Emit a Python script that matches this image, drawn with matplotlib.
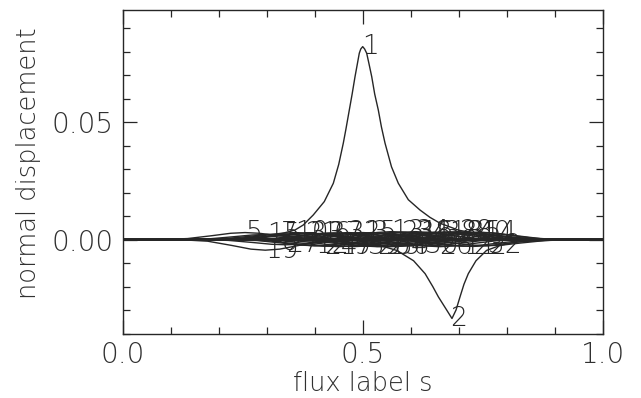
import matplotlib
matplotlib.use("Agg")
import matplotlib.pyplot as plt
from matplotlib.ticker import MultipleLocator, FixedLocator

# ---------------- data ----------------
# mode 1 (large positive peak)
s1 = [0.0, 0.15, 0.20, 0.25, 0.30, 0.33, 0.359, 0.376, 0.397, 0.420, 0.4388,
      0.450, 0.4596, 0.465, 0.4721, 0.478, 0.484, 0.489, 0.4929, 0.496, 0.50,
      0.504, 0.5083, 0.513, 0.5188, 0.525, 0.5325, 0.539, 0.5465, 0.56,
      0.5742, 0.595, 0.6194, 0.640, 0.661, 0.70, 0.75, 0.80, 0.90, 1.0]
v1 = [0.0, 0.0001, 0.0002, 0.0006, 0.0014, 0.0025, 0.0041, 0.0062, 0.0105, 0.0162,
      0.0240, 0.0320, 0.0411, 0.0470, 0.0552, 0.0620, 0.0694, 0.0750, 0.0794, 0.0812,
      0.0822, 0.0812, 0.0794, 0.0750, 0.0694, 0.0620, 0.0552, 0.0480, 0.0411, 0.0310,
      0.0240, 0.0170, 0.0126, 0.0095, 0.0070, 0.0040, 0.0022, 0.0010, 0.0002, 0.0]

# mode 2 (large negative peak)
s2 = [0.0, 0.30, 0.45, 0.52, 0.536, 0.571, 0.606, 0.630, 0.646, 0.6577, 0.675, 0.686,
      0.6944, 0.7027, 0.711, 0.720, 0.736, 0.758, 0.786, 0.82, 0.90, 1.0]
v2 = [0.0, -0.0002, -0.0008, -0.0020, -0.0025, -0.0046, -0.0090, -0.0145, -0.0200,
      -0.0244, -0.0300, -0.0336, -0.0300, -0.0244, -0.0190, -0.0145, -0.0090, -0.0046,
      -0.0025, -0.0010, -0.0002, 0.0]

# small modes 3..40: position and value of each extremum (estimated)
small_modes = list(range(3, 41))
small_s = [0.52, 0.60, 0.255, 0.44, 0.33, 0.65, 0.48, 0.36, 0.71, 0.40,
           0.56, 0.75, 0.30, 0.62, 0.45, 0.68, 0.297, 0.53, 0.38, 0.73,
           0.58, 0.42, 0.50, 0.66, 0.34, 0.70, 0.55, 0.63, 0.47, 0.76,
           0.39, 0.61, 0.72, 0.57, 0.43, 0.67, 0.51, 0.74]
small_v = [0.0030, -0.0026, 0.0030, 0.0028, 0.0024, 0.0032, -0.0030, 0.0030, -0.0028, -0.0026,
           0.0034, 0.0030, 0.0022, 0.0030, -0.0030, 0.0032, -0.0045, -0.0030, 0.0028, -0.0029,
           0.0032, -0.0028, 0.0030, -0.0030, -0.0022, 0.0034, -0.0031, -0.0027, 0.0030, -0.0026,
           0.0026, 0.0034, 0.0030, -0.0029, 0.0028, 0.0032, -0.0028, 0.0032]
# common profile of the small modes (offset from extremum, fraction of extremum)
profile_ds = [-1.0, -0.18, -0.12, -0.07, -0.03, 0.0, 0.03, 0.07, 0.12, 0.18, 1.0]
profile_f = [0.0, 0.0, 0.15, 0.55, 0.90, 1.0, 0.90, 0.55, 0.15, 0.0, 0.0]

x_major = [0.0, 0.5, 1.0]
x_major_labels = ["0.0", "0.5", "1.0"]
y_major = [0.0, 0.05]
y_major_labels = ["0.00", "0.05"]

# ---------------- figure ----------------
plt.rcParams['font.family'] = ['DejaVu Sans']
plt.rcParams['font.weight'] = 'light'
plt.rcParams['axes.labelweight'] = 'light'
ink = '#262626'
txt = '#303030'
W, H = 641, 398
fig = plt.figure(figsize=(W / 100, H / 100), dpi=100)
ax = fig.add_axes([122.7 / W, 1 - 334 / H, 480 / W, 324 / H])

lw = 1.0
ax.plot(s1, v1, color=ink, lw=lw)
ax.plot(s2, v2, color=ink, lw=lw)
for n, sc, vc in zip(small_modes, small_s, small_v):
    xs = [min(max(sc + d, 0.0), 1.0) for d in profile_ds]
    ys = [vc * f for f in profile_f]
    ax.plot(xs, ys, color=ink, lw=lw)

lab_fs = 19
ax.text(0.498, max(v1), "1", ha='left', va='center', fontsize=lab_fs, color=ink,
        fontweight='light')
ax.text(0.682, min(v2), "2", ha='left', va='center', fontsize=lab_fs, color=ink,
        fontweight='light')
for n, sc, vc in zip(small_modes, small_s, small_v):
    ax.text(sc, vc, str(n), ha='left', va='center', fontsize=lab_fs, color=ink,
            fontweight='light')

ax.set_xlim(0.0, 1.0)
ax.set_ylim(-0.0402, 0.0978)

ax.xaxis.set_major_locator(FixedLocator(x_major))
ax.set_xticklabels(x_major_labels)
ax.xaxis.set_minor_locator(MultipleLocator(0.1))
ax.yaxis.set_major_locator(FixedLocator(y_major))
ax.set_yticklabels(y_major_labels)
ax.yaxis.set_minor_locator(MultipleLocator(0.01))

ax.tick_params(which='both', direction='in', top=True, right=True, color=ink, width=0.9)
ax.tick_params(which='major', length=10, labelsize=20, labelcolor=txt)
ax.tick_params(axis='x', which='major', pad=5)
ax.tick_params(axis='y', which='major', pad=6.5)
ax.tick_params(which='minor', length=5)
for sp in ax.spines.values():
    sp.set_color(ink)
    sp.set_linewidth(1.0)

ax.set_xlabel("flux label s", fontsize=18.5, color=txt, va='baseline', fontweight='light')
ax.xaxis.set_label_coords(0.5, (334 - 391) / 324)
ax.set_ylabel("normal displacement", fontsize=18.5, color=txt, va='center', fontweight='light')
ax.yaxis.set_label_coords((29 - 122.7) / 480, (334 - 162.7) / 324)

fig.savefig("out.png", dpi=100)
